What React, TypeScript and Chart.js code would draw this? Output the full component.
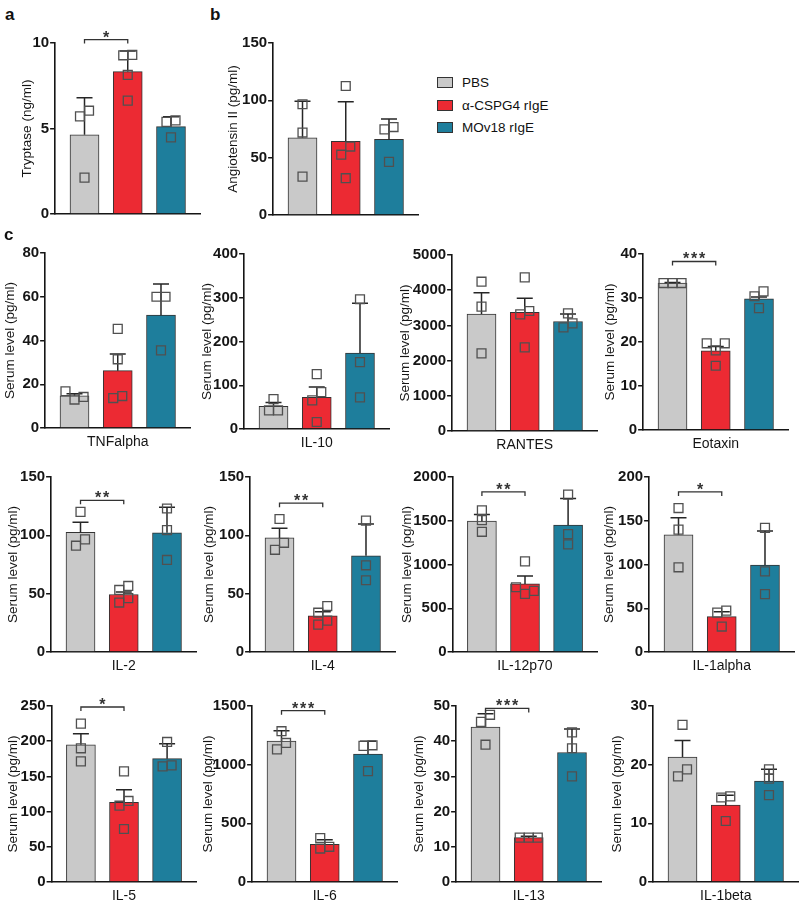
import React, { useEffect, useRef } from 'react';
import { Chart, registerables } from 'chart.js';
Chart.register(...registerables);

// ---------- data ----------
const groups = ['PBS', 'α-CSPG4 rIgE', 'MOv18 rIgE'];
const groupColors = ['#c9c9c9', '#ec2a33', '#1e7e9c'];

const tryptaseMean = [4.63, 8.33, 5.11];
const tryptaseSD = [2.17, 1.2, 0.57];
const tryptasePoints = [[6.04, 5.71, 2.13], [9.3, 9.28, 8.13, 6.63], [5.47, 5.39, 4.48]];
const tryptaseSig = { label: '*', level: 10.2 };

const angiotensinMean = [67.3, 64.2, 65.9];
const angiotensinSD = [32, 34.5, 17.9];
const angiotensinPoints = [[96.6, 71.9, 33.5], [112.5, 59.7, 52.6, 32.1], [76.7, 74.7, 46.3]];

const tnfMean = [14.7, 26.2, 51.6];
const tnfSD = [1.0, 7.6, 14.2];
const tnfPoints = [[16.8, 13.0, 14.2], [45.3, 31.4, 13.7, 14.6], [60, 60, 35.5]];

const il10Mean = [51.7, 72.5, 173.5];
const il10SD = [9.1, 23.3, 114];
const il10Points = [[68.4, 42.6, 42.6], [125.5, 84.4, 65.4, 16], [296.6, 152.9, 72.2]];

const rantesMean = [3324, 3371, 3110];
const rantesSD = [606, 398, 214];
const rantesPoints = [[4242, 3532, 2206], [4365, 3409, 3314, 2377], [3343, 3059, 2945]];

const eotaxinMean = [33.4, 18.0, 29.8];
const eotaxinSD = [0.15, 1.0, 0.4];
const eotaxinPoints = [[33.4, 33.4, 33.4], [19.7, 19.7, 18.1, 14.6], [31.5, 30.4, 27.7]];
const eotaxinSig = { label: '***', level: 38.3 };

const il2Mean = [102.5, 49.3, 102.2];
const il2SD = [8.8, 2.2, 21.9];
const il2Points = [[120.1, 96.5, 91.1], [56.6, 53.2, 46.1, 42.4], [123, 104.5, 78.9]];
const il2Sig = { label: '**', level: 130 };

const il4Mean = [97.8, 30.9, 82.5];
const il4SD = [8.2, 3.7, 27.2];
const il4Points = [[114, 93.6, 87.6], [39.4, 33.7, 26.9, 23.5], [112.6, 74.3, 61.5]];
const il4Sig = { label: '**', level: 127.6 };

const il12Mean = [1495, 778, 1450];
const il12SD = [76, 91, 303];
const il12Points = [[1620, 1507, 1374], [1036, 740, 698, 664], [1799, 1347, 1230]];
const il12Sig = { label: '**', level: 1829 };

const il1aMean = [133.8, 40.5, 99.4];
const il1aSD = [19.7, 5.6, 39];
const il1aPoints = [[164.5, 139.9, 96.8], [47.3, 45, 29.1], [141.8, 92.2, 66.2]];
const il1aSig = { label: '*', level: 183 };

const il5Mean = [195, 113.2, 175.2];
const il5SD = [15.7, 18, 21.3];
const il5Points = [[224.9, 189.9, 171.4], [157.2, 115.1, 108.4, 75.3], [198.9, 164.3, 165.7]];
const il5Sig = { label: '*', level: 248.6 };

const il6Mean = [1200, 320, 1090];
const il6SD = [90, 40, 110];
const il6Points = [[1285, 1185, 1130], [375, 300, 285], [1165, 1160, 945]];
const il6Sig = { label: '***', level: 1460 };

const il13Mean = [44, 12.6, 36.8];
const il13SD = [3.8, 0.4, 6.7];
const il13Points = [[47.5, 45.5, 39], [12.6, 12.6, 12.6], [42.5, 38, 30]];
const il13Sig = { label: '***', level: 49.3 };

const il1bMean = [21.3, 13.1, 17.2];
const il1bSD = [2.8, 1.7, 2.0];
const il1bPoints = [[26.8, 19.2, 18], [14.6, 14.4, 10.4], [19.2, 17.6, 14.8]];

const serum = 'Serum level (pg/ml)';

type Sig = { label: string; level: number } | null;
type PanelDef = {
  yTitle: string; xLabel: string; max: number; step: number;
  mean: number[]; sd: number[]; pts: number[][]; sig: Sig;
  ax: number; top: number; zero: number; tOff: number;
};

const panels: PanelDef[] = [
  { yTitle: 'Tryptase (ng/ml)', xLabel: '', max: 10, step: 5, mean: tryptaseMean, sd: tryptaseSD, pts: tryptasePoints, sig: tryptaseSig, ax: 55, top: 43, zero: 218, tOff: 28 },
  { yTitle: 'Angiotensin II (pg/ml)', xLabel: '', max: 150, step: 50, mean: angiotensinMean, sd: angiotensinSD, pts: angiotensinPoints, sig: null, ax: 273, top: 43, zero: 219, tOff: 40 },
  { yTitle: serum, xLabel: 'TNFalpha', max: 80, step: 20, mean: tnfMean, sd: tnfSD, pts: tnfPoints, sig: null, ax: 45, top: 253, zero: 428, tOff: 35 },
  { yTitle: serum, xLabel: 'IL-10', max: 400, step: 100, mean: il10Mean, sd: il10SD, pts: il10Points, sig: null, ax: 244, top: 254, zero: 429, tOff: 37 },
  { yTitle: serum, xLabel: 'RANTES', max: 5000, step: 1000, mean: rantesMean, sd: rantesSD, pts: rantesPoints, sig: null, ax: 452, top: 255, zero: 431, tOff: 47 },
  { yTitle: serum, xLabel: 'Eotaxin', max: 40, step: 10, mean: eotaxinMean, sd: eotaxinSD, pts: eotaxinPoints, sig: eotaxinSig, ax: 643, top: 254, zero: 430, tOff: 33 },
  { yTitle: serum, xLabel: 'IL-2', max: 150, step: 50, mean: il2Mean, sd: il2SD, pts: il2Points, sig: il2Sig, ax: 51, top: 477, zero: 652, tOff: 38 },
  { yTitle: serum, xLabel: 'IL-4', max: 150, step: 50, mean: il4Mean, sd: il4SD, pts: il4Points, sig: il4Sig, ax: 250, top: 477, zero: 652, tOff: 41 },
  { yTitle: serum, xLabel: 'IL-12p70', max: 2000, step: 500, mean: il12Mean, sd: il12SD, pts: il12Points, sig: il12Sig, ax: 453, top: 477, zero: 652, tOff: 45.5 },
  { yTitle: serum, xLabel: 'IL-1alpha', max: 200, step: 50, mean: il1aMean, sd: il1aSD, pts: il1aPoints, sig: il1aSig, ax: 649, top: 477, zero: 652, tOff: 40 },
  { yTitle: serum, xLabel: 'IL-5', max: 250, step: 50, mean: il5Mean, sd: il5SD, pts: il5Points, sig: il5Sig, ax: 52, top: 706, zero: 882, tOff: 38.5 },
  { yTitle: serum, xLabel: 'IL-6', max: 1500, step: 500, mean: il6Mean, sd: il6SD, pts: il6Points, sig: il6Sig, ax: 252, top: 706, zero: 882, tOff: 44 },
  { yTitle: serum, xLabel: 'IL-13', max: 50, step: 10, mean: il13Mean, sd: il13SD, pts: il13Points, sig: il13Sig, ax: 456, top: 706, zero: 882, tOff: 37 },
  { yTitle: serum, xLabel: 'IL-1beta', max: 30, step: 10, mean: il1bMean, sd: il1bSD, pts: il1bPoints, sig: null, ax: 653, top: 706, zero: 882, tOff: 36 },
];

// ---------- helpers ----------
const FONT = "'Liberation Sans', Arial, Helvetica, sans-serif";
const PLOT_W = 148;
const X_MIN = -0.68;
const X_MAX = 2.68;
const PAD_TOP = 22;
const INK = '#151515';

function swarm(pts: number[][], pxX: number, pxY: number, d = 9.2) {
  const out: { x: number; y: number }[] = [];
  pts.forEach((vals, g) => {
    const placed: { v: number; o: number }[] = [];
    const sorted = [...vals].sort((a, b) => a - b);
    for (const v of sorted) {
      const cands = [0, d, -d, 2 * d, -2 * d];
      let off = 0;
      for (const c of cands) {
        const ok = placed.every(q => Math.abs(q.v - v) * pxY >= d * 0.95 || Math.abs(q.o - c) >= d * 0.95);
        if (ok) { off = c; break; }
      }
      placed.push({ v, o: off });
    }
    let start = 0;
    for (let i = 1; i <= placed.length; i++) {
      if (i === placed.length || (placed[i].v - placed[i - 1].v) * pxY >= d) {
        const cl = placed.slice(start, i);
        const mn = Math.min(...cl.map(q => q.o));
        const mx = Math.max(...cl.map(q => q.o));
        const sh = (mn + mx) / 2;
        cl.forEach(q => { q.o -= sh; });
        start = i;
      }
    }
    placed.forEach(q => out.push({ x: g + q.o / pxX, y: q.v }));
  });
  return out;
}

function Panel({ p }: { p: PanelDef }) {
  const ref = useRef<HTMLCanvasElement>(null);
  const titleLH = 13.5 * 1.2;
  const W = p.tOff + titleLH / 2;
  const plotH = p.zero - p.top;
  const H = p.xLabel ? 14 + 8.4 : 4;
  const cw = Math.ceil(W + PLOT_W + 4);
  const ch = Math.ceil(PAD_TOP + plotH + H + 2);

  useEffect(() => {
    if (!ref.current) return;
    const pxX = PLOT_W / (X_MAX - X_MIN);
    const pxY = plotH / p.max;
    const scatterData = swarm(p.pts, pxX, pxY);

    const overlay = {
      id: 'overlay',
      afterDatasetDraw(chart: any, args: any) {
        if (args.index !== 0) return;
        const { ctx, scales } = chart;
        const x = scales.x, y = scales.y;
        ctx.save();
        ctx.strokeStyle = '#262626';
        ctx.lineWidth = 1.5;
        p.mean.forEach((m, i) => {
          const cx = x.getPixelForValue(i);
          const y0 = y.getPixelForValue(m);
          const y1 = y.getPixelForValue(m + p.sd[i]);
          ctx.beginPath();
          ctx.moveTo(cx, y0);
          ctx.lineTo(cx, y1);
          ctx.moveTo(cx - 8, y1);
          ctx.lineTo(cx + 8, y1);
          ctx.stroke();
        });
        ctx.restore();
      },
      afterDraw(chart: any) {
        if (!p.sig) return;
        const { ctx, scales } = chart;
        const x = scales.x, y = scales.y;
        const x0 = x.getPixelForValue(0);
        const x1 = x.getPixelForValue(1);
        const yy = y.getPixelForValue(p.sig.level);
        ctx.save();
        ctx.strokeStyle = '#333';
        ctx.lineWidth = 1.3;
        ctx.beginPath();
        ctx.moveTo(x0, yy + 4);
        ctx.lineTo(x0, yy);
        ctx.lineTo(x1, yy);
        ctx.lineTo(x1, yy + 4);
        ctx.stroke();
        ctx.fillStyle = '#333';
        ctx.font = `bold 16px ${FONT}`;
        ctx.textAlign = 'center';
        ctx.textBaseline = 'alphabetic';
        const n = p.sig.label.length;
        const cx = (x0 + x1) / 2;
        for (let k = 0; k < n; k++) {
          ctx.fillText('*', cx + (k - (n - 1) / 2) * 8, yy + 3);
        }
        ctx.restore();
      },
    };

    const chart = new Chart(ref.current, {
      type: 'bar',
      data: {
        datasets: [
          {
            type: 'bar',
            data: p.mean.map((m, i) => ({ x: i, y: m })) as any,
            backgroundColor: groupColors,
            borderColor: '#333',
            borderWidth: 1,
            barThickness: 29,
            order: 1,
          } as any,
          {
            type: 'scatter',
            data: scatterData as any,
            pointStyle: 'rect',
            pointRadius: 6.3,
            borderColor: '#505050',
            borderWidth: 1.3,
            backgroundColor: 'rgba(0,0,0,0)',
            clip: false,
            order: 0,
          } as any,
        ],
      },
      options: {
        animation: false,
        responsive: false,
        maintainAspectRatio: false,
        events: [],
        layout: { padding: { left: 0, right: cw - W - PLOT_W, top: PAD_TOP, bottom: ch - PAD_TOP - plotH - H } },
        plugins: { legend: { display: false }, tooltip: { enabled: false } },
        scales: {
          x: {
            type: 'linear',
            min: X_MIN,
            max: X_MAX,
            offset: false,
            ticks: { display: false },
            grid: { display: false, offset: false },
            border: { display: true, color: INK, width: 1.6 },
            title: { display: !!p.xLabel, text: p.xLabel, color: INK, font: { family: FONT, size: 14 }, padding: 0 },
            afterFit: (s: any) => { s.height = H; },
          },
          y: {
            min: 0,
            max: p.max,
            ticks: {
              stepSize: p.step,
              color: INK,
              padding: 1,
              font: { family: FONT, size: 15, weight: 'bold' },
              callback: (v: any) => String(v),
            },
            grid: { display: true, drawOnChartArea: false, drawTicks: true, tickLength: 5, color: INK, lineWidth: 1.5 },
            border: { display: true, color: INK, width: 1.6 },
            title: { display: true, text: p.yTitle, color: INK, font: { family: FONT, size: 13.5 }, padding: 0 },
            afterFit: (s: any) => { s.width = W; },
          },
        },
      } as any,
      plugins: [overlay],
    });
    return () => chart.destroy();
  }, []);

  return (
    <canvas
      ref={ref}
      width={cw}
      height={ch}
      style={{ position: 'absolute', left: p.ax - W, top: p.top - PAD_TOP, width: cw, height: ch, display: 'block' }}
    />
  );
}

const letterStyle: React.CSSProperties = {
  position: 'absolute', fontFamily: FONT, fontWeight: 'bold', fontSize: 17, lineHeight: '17px', color: '#111',
};

export default function App() {
  return (
    <div style={{ position: 'absolute', left: 0, top: 0, width: 800, height: 902, background: '#fff', overflow: 'hidden' }}>
      {panels.map((p, i) => <Panel key={i} p={p} />)}
      <div style={{ ...letterStyle, left: 5, top: 5.5 }}>a</div>
      <div style={{ ...letterStyle, left: 210, top: 5.5 }}>b</div>
      <div style={{ ...letterStyle, left: 4, top: 226 }}>c</div>
      {groups.map((g, i) => (
        <div key={g} style={{ position: 'absolute', left: 437, top: 74.5 + i * 22.5, height: 16, display: 'flex', alignItems: 'center' }}>
          <div style={{ width: 14, height: 9, background: groupColors[i], border: '1px solid #333' }} />
          <span style={{ marginLeft: 9, fontFamily: FONT, fontSize: 13.5, color: '#111', whiteSpace: 'nowrap' }}>{g}</span>
        </div>
      ))}
    </div>
  );
}
